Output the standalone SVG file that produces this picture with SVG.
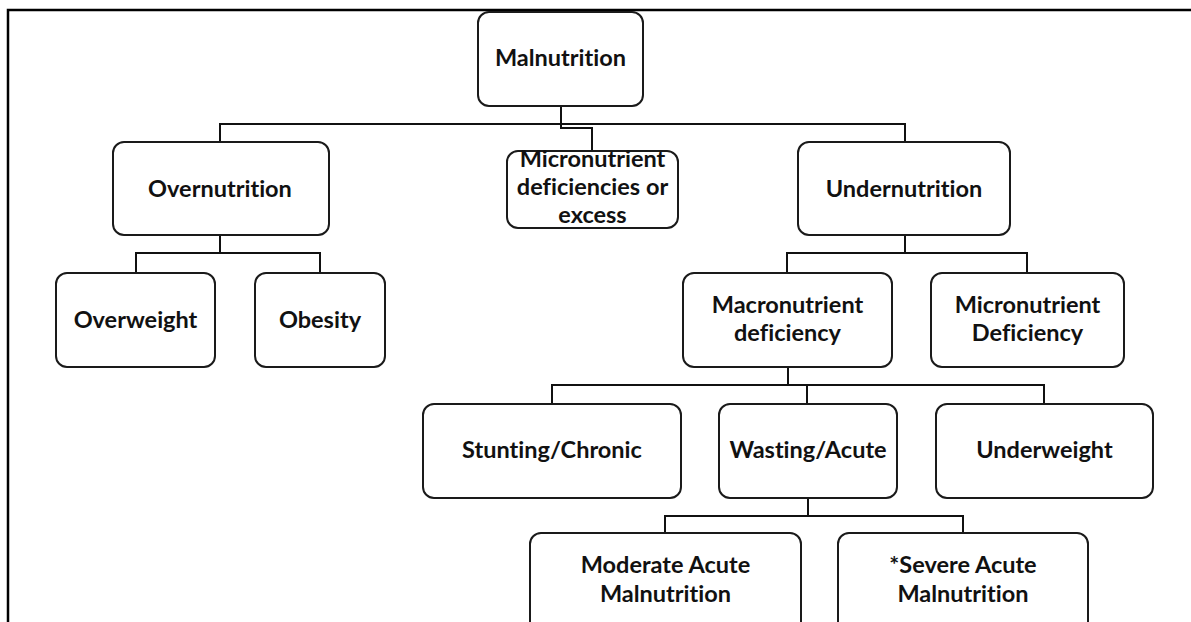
<svg xmlns="http://www.w3.org/2000/svg" width="1191" height="622" viewBox="0 0 1191 622">
<style>
.box{fill:#fff;stroke:#1a1a1a;stroke-width:2}
.t{font-family:Lato,"Open Sans","Liberation Sans",sans-serif;font-weight:bold;font-size:23.5px;fill:#111;text-anchor:middle;font-variant-ligatures:none}
.big{font-size:23.5px}
.c{fill:none;stroke:#111;stroke-width:2}
.frame{fill:none;stroke:#000;stroke-width:2.5}
</style>
<rect width="1191" height="622" fill="#fff"/>
<path class="frame" d="M8,622 V10 H1191"/>
<g id="connectors">
<path class="c" d="M561,106 V128 H592 V151"/>
<path class="c" d="M220,142 V124 H905 V142"/>
<path class="c" d="M220,235 V253 M136,273 V253 H320 V273"/>
<path class="c" d="M905,235 V253 M787,273 V253 H1027 V273"/>
<path class="c" d="M788,367 V385 M552,404 V385 H1044 V404 M807,385 V404"/>
<path class="c" d="M808,498 V516 M665,533 V516 H963 V533"/>
</g>
<g id="malnutrition"><rect class="box" x="478" y="12" width="165" height="94" rx="11"/><text class="t" x="560.5" y="66">Malnutrition</text></g>
<g id="overnutrition"><rect class="box" x="113" y="142" width="216" height="93" rx="11"/><text class="t" x="220" y="197">Overnutrition</text></g>
<g id="micronutrient-excess"><rect class="box" x="507" y="151" width="171" height="77" rx="11"/><text class="t big" x="592.5" y="167">Micronutrient</text><text class="t big" x="592.5" y="195">deficiencies or</text><text class="t big" x="592.5" y="223">excess</text></g>
<g id="undernutrition"><rect class="box" x="798" y="142" width="212" height="93" rx="11"/><text class="t" x="904" y="197">Undernutrition</text></g>
<g id="overweight"><rect class="box" x="56" y="273" width="159" height="94" rx="11"/><text class="t" x="135.5" y="328">Overweight</text></g>
<g id="obesity"><rect class="box" x="255" y="273" width="130" height="94" rx="11"/><text class="t" x="320" y="328">Obesity</text></g>
<g id="macronutrient"><rect class="box" x="683" y="273" width="209" height="94" rx="11"/><text class="t" x="787.5" y="313">Macronutrient</text><text class="t" x="787.5" y="341">deficiency</text></g>
<g id="micronutrient-deficiency"><rect class="box" x="931" y="273" width="193" height="94" rx="11"/><text class="t" x="1027.5" y="313">Micronutrient</text><text class="t" x="1027.5" y="341">Deficiency</text></g>
<g id="stunting"><rect class="box" x="423" y="404" width="258" height="94" rx="11"/><text class="t" x="552" y="458">Stunting/Chronic</text></g>
<g id="wasting"><rect class="box" x="719" y="404" width="178" height="94" rx="11"/><text class="t" x="808" y="458">Wasting/Acute</text></g>
<g id="underweight"><rect class="box" x="936" y="404" width="217" height="94" rx="11"/><text class="t" x="1044.5" y="458">Underweight</text></g>
<g id="mam"><rect class="box" x="530" y="533" width="271" height="110" rx="11"/><text class="t" x="665.5" y="573">Moderate Acute</text><text class="t" x="665.5" y="602">Malnutrition</text></g>
<g id="sam"><rect class="box" x="838" y="533" width="250" height="110" rx="11"/><text class="t" x="963" y="573">*Severe Acute</text><text class="t" x="963" y="602">Malnutrition</text></g>
</svg>
